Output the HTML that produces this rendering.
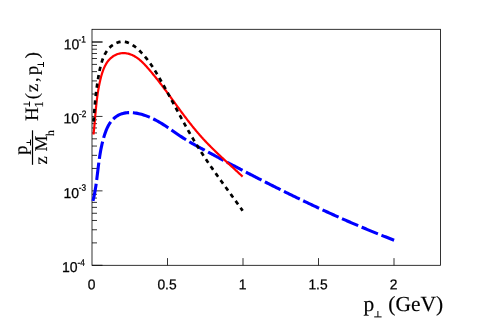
<!DOCTYPE html>
<html><head><meta charset="utf-8"><title>plot</title>
<style>
html,body{margin:0;padding:0;background:#fff;}
body{width:484px;height:328px;overflow:hidden;font-family:"Liberation Sans",sans-serif;}
svg{display:block;will-change:transform;}
.ax line{stroke:#000;stroke-width:0.8;}
.sans text{font-family:"Liberation Sans",sans-serif;fill:#000;text-rendering:geometricPrecision;stroke:#000;stroke-width:0.25px;}
.serif text{font-family:"Liberation Serif",serif;fill:#000;text-rendering:geometricPrecision;stroke:#000;stroke-width:0.15px;}
</style></head><body>
<svg width="484" height="328" viewBox="0 0 484 328">
<rect x="0" y="0" width="484" height="328" fill="#fff"/>
<rect x="92.0" y="29.3" width="348.5" height="236.0" fill="none" stroke="#000" stroke-width="0.8"/>
<g class="ax">
<line x1="92.0" y1="265.29" x2="102.5" y2="265.29"/>
<line x1="92.0" y1="242.88" x2="97.0" y2="242.88"/>
<line x1="92.0" y1="229.78" x2="97.0" y2="229.78"/>
<line x1="92.0" y1="220.48" x2="97.0" y2="220.48"/>
<line x1="92.0" y1="213.27" x2="97.0" y2="213.27"/>
<line x1="92.0" y1="207.37" x2="97.0" y2="207.37"/>
<line x1="92.0" y1="202.39" x2="97.0" y2="202.39"/>
<line x1="92.0" y1="198.07" x2="97.0" y2="198.07"/>
<line x1="92.0" y1="194.27" x2="97.0" y2="194.27"/>
<line x1="92.0" y1="190.86" x2="102.5" y2="190.86"/>
<line x1="92.0" y1="168.45" x2="97.0" y2="168.45"/>
<line x1="92.0" y1="155.35" x2="97.0" y2="155.35"/>
<line x1="92.0" y1="146.05" x2="97.0" y2="146.05"/>
<line x1="92.0" y1="138.84" x2="97.0" y2="138.84"/>
<line x1="92.0" y1="132.94" x2="97.0" y2="132.94"/>
<line x1="92.0" y1="127.96" x2="97.0" y2="127.96"/>
<line x1="92.0" y1="123.64" x2="97.0" y2="123.64"/>
<line x1="92.0" y1="119.84" x2="97.0" y2="119.84"/>
<line x1="92.0" y1="116.43" x2="102.5" y2="116.43"/>
<line x1="92.0" y1="94.02" x2="97.0" y2="94.02"/>
<line x1="92.0" y1="80.92" x2="97.0" y2="80.92"/>
<line x1="92.0" y1="71.62" x2="97.0" y2="71.62"/>
<line x1="92.0" y1="64.41" x2="97.0" y2="64.41"/>
<line x1="92.0" y1="58.51" x2="97.0" y2="58.51"/>
<line x1="92.0" y1="53.53" x2="97.0" y2="53.53"/>
<line x1="92.0" y1="49.21" x2="97.0" y2="49.21"/>
<line x1="92.0" y1="45.41" x2="97.0" y2="45.41"/>
<line x1="92.0" y1="42.00" x2="102.5" y2="42.00"/>
<line x1="92.0" y1="42.00" x2="102.5" y2="42.00"/>
<line x1="167.50" y1="265.3" x2="167.50" y2="258.1"/>
<line x1="243.00" y1="265.3" x2="243.00" y2="258.1"/>
<line x1="318.50" y1="265.3" x2="318.50" y2="258.1"/>
<line x1="394.00" y1="265.3" x2="394.00" y2="258.1"/>
</g>
<g fill="none" stroke-linecap="butt" stroke-linejoin="round">
<path d="M93.00,200.80 L93.31,199.51 L93.61,198.21 L93.90,196.91 L94.17,195.61 L94.43,194.31 L94.68,193.01 L94.92,191.70 L95.15,190.40 L95.37,189.09 L95.58,187.78 L95.79,186.47 L95.98,185.16 L96.17,183.84 L96.35,182.53 L96.53,181.21 L96.70,179.89 L96.87,178.57 L97.03,177.25 L97.19,175.93 L97.35,174.61 L97.51,173.29 L97.67,171.97 L97.83,170.65 L97.99,169.33 L98.15,168.00 L98.31,166.68 L98.47,165.36 L98.64,164.03 L98.81,162.71 L98.99,161.38 L99.17,160.06 L99.35,158.74 L99.55,157.42 L99.75,156.09 L99.96,154.77 L100.17,153.45 L100.40,152.13 L100.64,150.81 L100.88,149.49 L101.14,148.17 L101.41,146.85 L101.70,145.54 L101.99,144.22 L102.30,142.91 L102.63,141.59 L102.97,140.28 L103.33,138.97 L103.70,137.66 L104.09,136.36 L104.50,135.05 L104.93,133.75 L105.38,132.46 L105.85,131.18 L106.35,129.91 L106.89,128.66 L107.45,127.44 L108.05,126.24 L108.68,125.07 L109.36,123.94 L110.08,122.84 L110.84,121.79 L111.65,120.78 L112.50,119.82 L113.40,118.91 L114.34,118.05 L115.31,117.25 L116.33,116.51 L117.38,115.82 L118.46,115.20 L119.58,114.65 L120.73,114.16 L121.90,113.74 L123.11,113.39 L124.34,113.10 L125.59,112.88 L126.86,112.72 L128.14,112.62 L129.45,112.58 L130.77,112.59 L132.10,112.65 L133.44,112.77 L134.78,112.93 L136.13,113.13 L137.49,113.38 L138.85,113.67 L140.20,114.00 L141.56,114.37 L142.90,114.76 L144.24,115.19 L145.57,115.65 L146.89,116.14 L148.20,116.65 L149.49,117.18 L150.76,117.73 L152.01,118.30 L153.25,118.89 L154.47,119.50 L155.67,120.12 L156.86,120.75 L158.04,121.41 L159.21,122.07 L160.36,122.74 L161.50,123.43 L162.63,124.13 L163.75,124.83 L164.87,125.55 L165.97,126.27 L167.07,127.00 L168.17,127.73 L169.26,128.47 L170.34,129.22 L171.42,129.96 L172.50,130.71 L173.58,131.46 L174.66,132.21 L175.74,132.96 L176.82,133.70 L177.90,134.45 L178.98,135.19 L180.07,135.92 L181.16,136.65 L182.26,137.38 L183.36,138.09 L184.47,138.80 L185.59,139.50 L186.71,140.19 L187.84,140.88 L188.98,141.55 L190.13,142.22 L191.28,142.89 L192.43,143.54 L193.59,144.20 L194.75,144.85 L195.91,145.49 L197.08,146.13 L198.25,146.77 L199.42,147.41 L200.60,148.04 L201.77,148.68 L202.95,149.31 L204.12,149.94 L205.30,150.58 L206.47,151.21 L207.65,151.84 L208.82,152.47 L210.00,153.10 L211.17,153.73 L212.35,154.36 L213.53,154.99 L214.70,155.62 L215.88,156.25 L217.06,156.88 L218.23,157.50 L219.41,158.13 L220.59,158.76 L221.76,159.38 L222.94,160.01 L224.12,160.64 L225.30,161.26 L226.48,161.88 L227.65,162.51 L228.83,163.13 L230.01,163.75 L231.19,164.38 L232.37,165.00 L233.55,165.62 L234.73,166.24 L235.91,166.86 L237.09,167.48 L238.27,168.10 L239.45,168.72 L240.63,169.33 L241.81,169.95 L242.99,170.57 L244.18,171.18 L245.36,171.80 L246.54,172.41 L247.72,173.03 L248.91,173.64 L250.09,174.25 L251.27,174.86 L252.46,175.47 L253.64,176.09 L254.83,176.70 L256.01,177.30 L257.20,177.91 L258.38,178.52 L259.57,179.13 L260.75,179.73 L261.94,180.34 L263.13,180.94 L264.31,181.55 L265.50,182.15 L266.69,182.75 L267.88,183.35 L269.06,183.96 L270.25,184.56 L271.44,185.16 L272.63,185.75 L273.82,186.35 L275.01,186.95 L276.20,187.54 L277.39,188.14 L278.59,188.73 L279.78,189.33 L280.97,189.92 L282.16,190.51 L283.35,191.10 L284.55,191.69 L285.74,192.28 L286.94,192.87 L288.13,193.46 L289.33,194.04 L290.52,194.63 L291.72,195.21 L292.91,195.80 L294.11,196.38 L295.31,196.96 L296.51,197.54 L297.70,198.12 L298.90,198.70 L300.10,199.28 L301.30,199.85 L302.50,200.43 L303.70,201.01 L304.90,201.58 L306.10,202.15 L307.30,202.72 L308.51,203.29 L309.71,203.86 L310.91,204.43 L312.12,205.00 L313.32,205.57 L314.53,206.13 L315.73,206.70 L316.94,207.26 L318.14,207.82 L319.35,208.38 L320.56,208.94 L321.76,209.50 L322.97,210.06 L324.18,210.61 L325.39,211.17 L326.60,211.72 L327.81,212.28 L329.02,212.83 L330.23,213.38 L331.45,213.93 L332.66,214.48 L333.87,215.02 L335.09,215.57 L336.30,216.11 L337.52,216.66 L338.73,217.20 L339.95,217.74 L341.17,218.28 L342.38,218.82 L343.60,219.36 L344.82,219.89 L346.04,220.43 L347.26,220.96 L348.48,221.49 L349.70,222.02 L350.92,222.55 L352.14,223.08 L353.37,223.61 L354.59,224.13 L355.81,224.66 L357.04,225.18 L358.26,225.70 L359.49,226.22 L360.72,226.74 L361.94,227.26 L363.17,227.77 L364.40,228.29 L365.63,228.80 L366.86,229.31 L368.09,229.82 L369.32,230.33 L370.56,230.84 L371.79,231.35 L373.02,231.85 L374.26,232.35 L375.49,232.85 L376.73,233.36 L377.96,233.85 L379.20,234.35 L380.44,234.85 L381.68,235.34 L382.91,235.83 L384.15,236.33 L385.40,236.81 L386.64,237.30 L387.88,237.79 L389.12,238.27 L390.37,238.76 L391.61,239.24 L392.85,239.72 L394.10,240.20" stroke="#0000ff" stroke-width="3.1" stroke-dasharray="17.58 3.8" stroke-dashoffset="0.3"/>
<path d="M93.50,134.50 L93.60,133.55 L93.70,132.60 L93.80,131.65 L93.90,130.71 L93.99,129.78 L94.08,128.85 L94.17,127.93 L94.26,127.01 L94.34,126.09 L94.43,125.18 L94.51,124.28 L94.59,123.37 L94.67,122.47 L94.75,121.58 L94.83,120.69 L94.91,119.80 L94.98,118.91 L95.06,118.03 L95.14,117.15 L95.21,116.27 L95.29,115.39 L95.36,114.52 L95.44,113.65 L95.52,112.78 L95.60,111.91 L95.68,111.05 L95.76,110.18 L95.84,109.32 L95.92,108.46 L96.00,107.59 L96.09,106.73 L96.18,105.87 L96.27,105.01 L96.36,104.16 L96.45,103.30 L96.55,102.44 L96.65,101.58 L96.75,100.72 L96.85,99.86 L96.96,99.00 L97.07,98.14 L97.18,97.27 L97.30,96.41 L97.42,95.55 L97.54,94.68 L97.67,93.81 L97.80,92.94 L97.94,92.07 L98.08,91.20 L98.23,90.32 L98.38,89.44 L98.53,88.56 L98.69,87.68 L98.86,86.79 L99.03,85.90 L99.21,85.01 L99.39,84.11 L99.57,83.21 L99.77,82.31 L99.97,81.40 L100.17,80.49 L100.39,79.58 L100.61,78.66 L100.83,77.74 L101.07,76.83 L101.32,75.91 L101.57,75.00 L101.84,74.09 L102.12,73.19 L102.41,72.29 L102.72,71.40 L103.03,70.52 L103.36,69.65 L103.71,68.79 L104.07,67.94 L104.45,67.10 L104.84,66.27 L105.25,65.47 L105.68,64.67 L106.12,63.89 L106.59,63.13 L107.07,62.39 L107.58,61.67 L108.10,60.98 L108.65,60.30 L109.22,59.65 L109.81,59.02 L110.43,58.42 L111.07,57.84 L111.74,57.29 L112.43,56.77 L113.14,56.28 L113.87,55.82 L114.63,55.40 L115.40,55.00 L116.19,54.64 L117.00,54.32 L117.82,54.03 L118.65,53.78 L119.49,53.57 L120.34,53.39 L121.19,53.26 L122.06,53.17 L122.92,53.12 L123.79,53.11 L124.66,53.15 L125.53,53.22 L126.39,53.34 L127.25,53.49 L128.11,53.68 L128.95,53.90 L129.78,54.15 L130.61,54.43 L131.41,54.75 L132.21,55.08 L132.99,55.45 L133.76,55.84 L134.53,56.26 L135.28,56.70 L136.01,57.16 L136.74,57.64 L137.46,58.15 L138.17,58.67 L138.87,59.21 L139.56,59.77 L140.25,60.35 L140.92,60.94 L141.59,61.54 L142.25,62.16 L142.90,62.79 L143.55,63.44 L144.19,64.09 L144.82,64.75 L145.45,65.42 L146.07,66.10 L146.69,66.78 L147.31,67.47 L147.92,68.16 L148.52,68.86 L149.12,69.56 L149.72,70.26 L150.32,70.96 L150.91,71.66 L151.50,72.36 L152.09,73.06 L152.67,73.77 L153.25,74.47 L153.83,75.18 L154.41,75.89 L154.98,76.60 L155.55,77.31 L156.12,78.02 L156.69,78.73 L157.25,79.44 L157.81,80.16 L158.37,80.87 L158.93,81.58 L159.49,82.30 L160.04,83.01 L160.59,83.73 L161.14,84.45 L161.69,85.17 L162.23,85.88 L162.78,86.60 L163.32,87.32 L163.86,88.04 L164.40,88.76 L164.94,89.48 L165.48,90.20 L166.01,90.92 L166.55,91.64 L167.08,92.36 L167.61,93.08 L168.14,93.81 L168.67,94.53 L169.20,95.25 L169.73,95.97 L170.26,96.69 L170.79,97.41 L171.31,98.14 L171.84,98.86 L172.37,99.58 L172.89,100.30 L173.42,101.02 L173.94,101.74 L174.46,102.46 L174.99,103.18 L175.51,103.90 L176.04,104.62 L176.56,105.34 L177.08,106.06 L177.61,106.78 L178.13,107.50 L178.66,108.21 L179.18,108.93 L179.71,109.65 L180.24,110.36 L180.76,111.08 L181.29,111.79 L181.82,112.51 L182.35,113.22 L182.88,113.93 L183.41,114.64 L183.94,115.35 L184.47,116.06 L185.01,116.77 L185.54,117.48 L186.08,118.18 L186.61,118.89 L187.15,119.59 L187.69,120.30 L188.23,121.00 L188.78,121.70 L189.32,122.40 L189.87,123.10 L190.42,123.79 L190.97,124.49 L191.52,125.18 L192.07,125.88 L192.63,126.57 L193.19,127.26 L193.75,127.95 L194.31,128.64 L194.87,129.32 L195.44,130.01 L196.01,130.69 L196.58,131.37 L197.16,132.05 L197.73,132.73 L198.31,133.40 L198.89,134.08 L199.48,134.75 L200.07,135.42 L200.66,136.09 L201.25,136.76 L201.85,137.42 L202.45,138.08 L203.05,138.75 L203.66,139.40 L204.27,140.06 L204.88,140.72 L205.50,141.37 L206.11,142.02 L206.73,142.67 L207.36,143.32 L207.98,143.96 L208.61,144.61 L209.24,145.25 L209.87,145.89 L210.51,146.53 L211.15,147.17 L211.79,147.81 L212.43,148.44 L213.07,149.07 L213.72,149.71 L214.36,150.34 L215.01,150.97 L215.66,151.59 L216.31,152.22 L216.96,152.85 L217.62,153.47 L218.27,154.09 L218.93,154.71 L219.59,155.34 L220.24,155.95 L220.90,156.57 L221.56,157.19 L222.22,157.81 L222.88,158.42 L223.55,159.04 L224.21,159.65 L224.87,160.26 L225.53,160.87 L226.20,161.49 L226.86,162.10 L227.52,162.71 L228.19,163.31 L228.85,163.92 L229.51,164.53 L230.17,165.14 L230.84,165.74 L231.50,166.35 L232.16,166.95 L232.82,167.56 L233.48,168.16 L234.14,168.77 L234.80,169.37 L235.46,169.98 L236.11,170.58 L236.77,171.18 L237.42,171.78 L238.07,172.39 L238.72,172.99 L239.37,173.59 L240.02,174.19 L240.67,174.79 L241.32,175.40 L241.96,176.00 L242.60,176.60" stroke="#ff0000" stroke-width="2.2"/>
<path d="M93.50,121.70 L93.58,120.63 L93.66,119.57 L93.74,118.51 L93.82,117.46 L93.90,116.42 L93.98,115.39 L94.06,114.36 L94.14,113.34 L94.22,112.32 L94.30,111.31 L94.38,110.31 L94.46,109.30 L94.55,108.31 L94.63,107.31 L94.72,106.33 L94.80,105.34 L94.89,104.36 L94.98,103.38 L95.07,102.40 L95.16,101.43 L95.26,100.45 L95.36,99.48 L95.45,98.51 L95.56,97.54 L95.66,96.57 L95.76,95.60 L95.87,94.63 L95.98,93.66 L96.10,92.69 L96.21,91.72 L96.33,90.75 L96.46,89.78 L96.58,88.80 L96.71,87.82 L96.85,86.84 L96.98,85.86 L97.12,84.87 L97.27,83.88 L97.42,82.89 L97.57,81.89 L97.72,80.88 L97.89,79.88 L98.05,78.86 L98.22,77.84 L98.39,76.82 L98.57,75.79 L98.76,74.75 L98.95,73.71 L99.15,72.67 L99.35,71.62 L99.56,70.57 L99.79,69.53 L100.02,68.48 L100.26,67.44 L100.51,66.40 L100.78,65.36 L101.06,64.33 L101.35,63.31 L101.66,62.29 L101.98,61.29 L102.32,60.29 L102.67,59.31 L103.04,58.34 L103.43,57.39 L103.84,56.45 L104.27,55.52 L104.72,54.62 L105.19,53.73 L105.68,52.86 L106.20,52.02 L106.73,51.19 L107.30,50.39 L107.89,49.62 L108.50,48.86 L109.14,48.14 L109.81,47.45 L110.50,46.78 L111.23,46.14 L111.98,45.54 L112.76,44.97 L113.57,44.44 L114.40,43.94 L115.25,43.49 L116.13,43.08 L117.01,42.72 L117.91,42.40 L118.83,42.14 L119.75,41.93 L120.68,41.78 L121.61,41.69 L122.55,41.65 L123.49,41.68 L124.43,41.77 L125.36,41.92 L126.29,42.12 L127.21,42.38 L128.12,42.69 L129.03,43.06 L129.92,43.47 L130.81,43.93 L131.69,44.43 L132.56,44.97 L133.42,45.54 L134.26,46.15 L135.10,46.79 L135.93,47.45 L136.74,48.14 L137.55,48.85 L138.34,49.58 L139.12,50.32 L139.88,51.07 L140.64,51.84 L141.38,52.61 L142.10,53.38 L142.82,54.16 L143.52,54.95 L144.21,55.73 L144.88,56.53 L145.55,57.32 L146.20,58.12 L146.85,58.93 L147.48,59.74 L148.10,60.55 L148.71,61.37 L149.32,62.19 L149.91,63.01 L150.50,63.84 L151.08,64.67 L151.65,65.50 L152.21,66.33 L152.77,67.17 L153.32,68.01 L153.86,68.86 L154.40,69.71 L154.93,70.55 L155.46,71.41 L155.98,72.26 L156.50,73.12 L157.02,73.97 L157.53,74.83 L158.03,75.70 L158.54,76.56 L159.04,77.42 L159.54,78.29 L160.04,79.16 L160.53,80.03 L161.03,80.90 L161.52,81.77 L162.02,82.64 L162.51,83.52 L163.00,84.39 L163.49,85.27 L163.98,86.15 L164.47,87.02 L164.95,87.90 L165.44,88.78 L165.92,89.66 L166.41,90.54 L166.89,91.43 L167.38,92.31 L167.86,93.19 L168.34,94.08 L168.82,94.96 L169.30,95.85 L169.79,96.74 L170.27,97.62 L170.75,98.51 L171.23,99.40 L171.70,100.29 L172.18,101.18 L172.66,102.06 L173.14,102.95 L173.62,103.84 L174.10,104.73 L174.58,105.62 L175.06,106.51 L175.54,107.40 L176.02,108.29 L176.50,109.19 L176.98,110.08 L177.46,110.97 L177.94,111.86 L178.42,112.75 L178.90,113.64 L179.38,114.53 L179.87,115.42 L180.35,116.31 L180.83,117.20 L181.32,118.09 L181.80,118.97 L182.29,119.86 L182.78,120.75 L183.26,121.64 L183.75,122.53 L184.24,123.41 L184.73,124.30 L185.22,125.18 L185.72,126.07 L186.21,126.95 L186.71,127.84 L187.20,128.72 L187.70,129.60 L188.20,130.48 L188.70,131.36 L189.20,132.24 L189.71,133.12 L190.21,134.00 L190.72,134.87 L191.22,135.75 L191.73,136.62 L192.25,137.49 L192.76,138.37 L193.27,139.24 L193.79,140.11 L194.31,140.97 L194.83,141.84 L195.35,142.71 L195.88,143.57 L196.40,144.43 L196.93,145.29 L197.46,146.15 L198.00,147.01 L198.53,147.87 L199.07,148.72 L199.61,149.58 L200.15,150.43 L200.70,151.28 L201.24,152.13 L201.79,152.98 L202.34,153.83 L202.90,154.67 L203.45,155.51 L204.01,156.36 L204.56,157.20 L205.12,158.04 L205.68,158.88 L206.25,159.72 L206.81,160.55 L207.38,161.39 L207.94,162.22 L208.51,163.06 L209.08,163.89 L209.66,164.72 L210.23,165.55 L210.80,166.38 L211.38,167.21 L211.96,168.04 L212.54,168.87 L213.12,169.69 L213.70,170.52 L214.28,171.35 L214.86,172.17 L215.44,172.99 L216.03,173.82 L216.61,174.64 L217.20,175.46 L217.79,176.28 L218.38,177.10 L218.96,177.92 L219.55,178.74 L220.14,179.56 L220.73,180.38 L221.33,181.20 L221.92,182.02 L222.51,182.84 L223.10,183.66 L223.69,184.47 L224.29,185.29 L224.88,186.11 L225.47,186.93 L226.07,187.74 L226.66,188.56 L227.26,189.38 L227.85,190.19 L228.45,191.01 L229.04,191.83 L229.63,192.65 L230.23,193.46 L230.82,194.28 L231.42,195.10 L232.01,195.92 L232.60,196.73 L233.19,197.55 L233.79,198.37 L234.38,199.19 L234.97,200.01 L235.56,200.83 L236.15,201.65 L236.74,202.47 L237.33,203.29 L237.92,204.11 L238.51,204.93 L239.10,205.75 L239.68,206.58 L240.27,207.40 L240.85,208.22 L241.44,209.05 L242.02,209.87 L242.60,210.70" stroke="#000" stroke-width="2.7" stroke-dasharray="4.3 4.226"/>
</g>
<g class="sans">
<text transform="translate(79.4,49.20) scale(0.98,1) rotate(0.03)" text-anchor="end" font-size="14.3">10</text>
<text transform="translate(78.6,42.60) scale(0.88,1) rotate(0.03)" font-size="9.4">-1</text>
<text transform="translate(79.0,123.33) scale(0.98,1) rotate(0.03)" text-anchor="end" font-size="14.3">10</text>
<text transform="translate(79.0,117.03) scale(0.88,1) rotate(0.03)" font-size="9.4">-2</text>
<text transform="translate(79.0,197.96) scale(0.98,1) rotate(0.03)" text-anchor="end" font-size="14.3">10</text>
<text transform="translate(78.7,190.86) scale(0.88,1) rotate(0.03)" font-size="9.4">-3</text>
<text transform="translate(77.5,272.09) scale(0.98,1) rotate(0.03)" text-anchor="end" font-size="14.3">10</text>
<text transform="translate(77.4,265.69) scale(0.88,1) rotate(0.03)" font-size="9.4">-4</text>
<text transform="translate(91.50,289.2) scale(0.98,1) rotate(0.03)" text-anchor="middle" font-size="14.1">0</text>
<text transform="translate(167.00,289.2) scale(0.98,1) rotate(0.03)" text-anchor="middle" font-size="14.1">0.5</text>
<text transform="translate(242.50,289.2) scale(0.98,1) rotate(0.03)" text-anchor="middle" font-size="14.1">1</text>
<text transform="translate(318.00,289.2) scale(0.98,1) rotate(0.03)" text-anchor="middle" font-size="14.1">1.5</text>
<text transform="translate(393.50,289.2) scale(0.98,1) rotate(0.03)" text-anchor="middle" font-size="14.1">2</text>
</g>
<g class="serif">
<text x="363.6" y="311.0" font-size="21.5">p</text>
<text x="388.3" y="310.9" font-size="21.5">(GeV)</text>
<path d="M374.2,316.9 H381.6 M377.9,316.9 V311.0" stroke="#000" stroke-width="1" fill="none"/>
<g transform="rotate(-90)">
<text x="-154.70" y="26.50" font-size="18.5">p</text>
<path d="M-145.50,30.50 H-139.50 M-142.50,30.50 V26.50" stroke="#000" stroke-width="1.0" fill="none"/>
<line x1="-164.8" y1="32.5" x2="-130.3" y2="32.5" stroke="#000" stroke-width="1.2"/>
<text x="-164.60" y="47.30" font-size="18.5">z</text>
<text x="-151.50" y="47.30" font-size="18">M</text>
<text x="-136.00" y="54.00" font-size="11.8">h</text>
<text x="-121.10" y="37.90" font-size="19">H</text>
<text x="-107.40" y="42.80" font-size="12.5">1</text>
<path d="M-106.50,29.50 H-101.50 M-104.00,29.50 V23.50" stroke="#000" stroke-width="1.0" fill="none"/>
<text x="-99.30" y="37.90" font-size="18.5">(</text>
<text x="-92.00" y="37.90" font-size="18.5">z</text>
<text x="-82.00" y="37.90" font-size="18.5">,</text>
<text x="-75.00" y="37.90" font-size="18.5">p</text>
<path d="M-67.00,43.50 H-62.00 M-64.50,43.50 V37.50" stroke="#000" stroke-width="1.0" fill="none"/>
<text x="-58.30" y="37.90" font-size="18.5">)</text>
</g>
</g>
</svg>
</body></html>
